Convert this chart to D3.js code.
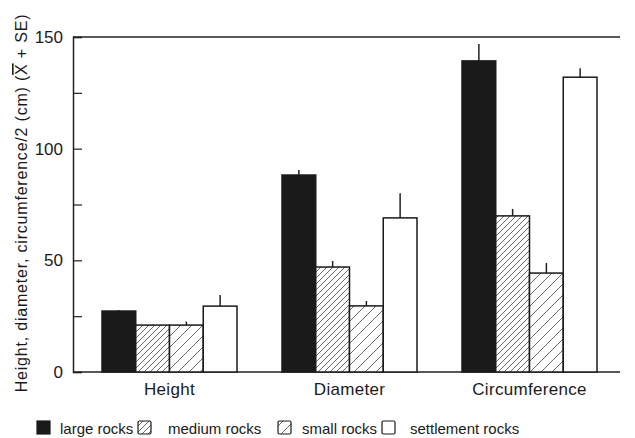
<!DOCTYPE html>
<html><head><meta charset="utf-8">
<script src="https://cdn.jsdelivr.net/npm/d3@7"></script>
<style>body{margin:0;background:#fff;} text{font-family:"Liberation Sans",Arial,sans-serif;fill:#1a1a1a;}</style>
</head><body>
<svg id="c" width="635" height="438"></svg>
<script>
const categories = ["Height", "Diameter", "Circumference"];
const seriesNames = ["large rocks", "medium rocks", "small rocks", "settlement rocks"];
const large = [27.3, 88.2, 139.3];
const medium = [21.0, 47.0, 69.9];
const small = [21.0, 29.6, 44.3];
const settlement = [29.5, 69.0, 132.0];
const largeErr = [0.5, 2.3, 7.6];
const mediumErr = [0.3, 2.7, 3.1];
const smallErr = [1.6, 2.2, 4.5];
const settlementErr = [5.0, 11.0, 4.0];
const yTicks = [0, 50, 100, 150];
const yMinorTicks = [25, 75, 125];

const values = [large, medium, small, settlement];
const errs = [largeErr, mediumErr, smallErr, settlementErr];

const svg = d3.select("#c");
const defs = svg.append("defs");
function hatch(id, spacing) {
  const p = defs.append("pattern").attr("id", id).attr("patternUnits", "userSpaceOnUse")
    .attr("width", spacing).attr("height", spacing);
  p.append("rect").attr("width", spacing).attr("height", spacing).attr("fill", "#fff");
  p.append("path").attr("d", `M0,${spacing} L${spacing},0 M${-spacing/2},${spacing/2} L${spacing/2},${-spacing/2} M${spacing/2},${spacing*1.5} L${spacing*1.5},${spacing/2}`)
    .attr("stroke", "#444").attr("stroke-width", 0.8);
}
hatch("hMed", 6);
hatch("hSmall", 11);
const fills = ["#1a1a1a", "url(#hMed)", "url(#hSmall)", "#fff"];

const y = d3.scaleLinear().domain([0, 150]).range([372, 37]);
const x0 = d3.scaleBand().domain(categories).range([79.5, 619.5]).paddingInner(0.25).paddingOuter(0.125);
const x1 = d3.scaleBand().domain(seriesNames).range([0, x0.bandwidth()]);

// frame lines
svg.append("line").attr("x1", 73).attr("x2", 620).attr("y1", y(150)).attr("y2", y(150)).attr("stroke", "#222").attr("stroke-width", 1.5);
svg.append("line").attr("x1", 73).attr("x2", 620).attr("y1", y(0)).attr("y2", y(0)).attr("stroke", "#222").attr("stroke-width", 1.5);

// y axis
const yAxis = d3.axisRight(y).tickValues(yTicks.concat(yMinorTicks)).tickSize(9).tickFormat("");
const ga = svg.append("g").attr("transform", "translate(73,0)").call(yAxis);
ga.select(".domain").attr("stroke", "#222").attr("stroke-width", 1.5);
ga.selectAll(".tick line").attr("stroke", "#222").attr("stroke-width", 1.2);
svg.append("g").selectAll("text").data(yTicks).join("text")
  .attr("x", 63).attr("y", d => y(d)).attr("dy", "0.36em").attr("text-anchor", "end")
  .attr("font-size", 17).text(d => d);

// y label
const yl = svg.append("text").attr("transform", "translate(27,203) rotate(-90)")
  .attr("text-anchor", "middle").attr("font-size", 16).attr("letter-spacing", 0.8);
yl.append("tspan").text("Height, diameter, circumference/2 (cm) (");
yl.append("tspan").style("text-decoration", "overline").text("X");
yl.append("tspan").text(" + SE)");

// bars
const g = svg.append("g");
categories.forEach((c, ci) => {
  seriesNames.forEach((s, si) => {
    const bx = x0(c) + x1(s);
    const v = values[si][ci];
    const e = errs[si][ci];
    g.append("line").attr("x1", bx + x1.bandwidth()/2).attr("x2", bx + x1.bandwidth()/2)
      .attr("y1", y(v)).attr("y2", y(v + e)).attr("stroke", "#222").attr("stroke-width", 1.5);
    g.append("rect").attr("x", bx).attr("y", y(v)).attr("width", x1.bandwidth()).attr("height", y(0) - y(v))
      .attr("fill", fills[si]).attr("stroke", "#1a1a1a").attr("stroke-width", 1.5);
  });
});

// x labels
svg.append("g").selectAll("text").data(categories).join("text")
  .attr("x", d => x0(d) + x0.bandwidth()/2).attr("y", 395).attr("text-anchor", "middle")
  .attr("font-size", 17).attr("letter-spacing", 0.3).text(d => d);

// legend
const legX = [37, 138, 278, 382];
const legT = [60, 168, 302, 410];
const leg = svg.append("g");
seriesNames.forEach((s, i) => {
  leg.append("rect").attr("x", legX[i]).attr("y", 421).attr("width", 13).attr("height", 13)
    .attr("fill", fills[i]).attr("stroke", "#1a1a1a").attr("stroke-width", 1.2).attr("rx", i === 0 ? 0 : 1.5);
  leg.append("text").attr("x", legT[i]).attr("y", 434).attr("font-size", 15).text(s);
});
</script>
</body></html>
